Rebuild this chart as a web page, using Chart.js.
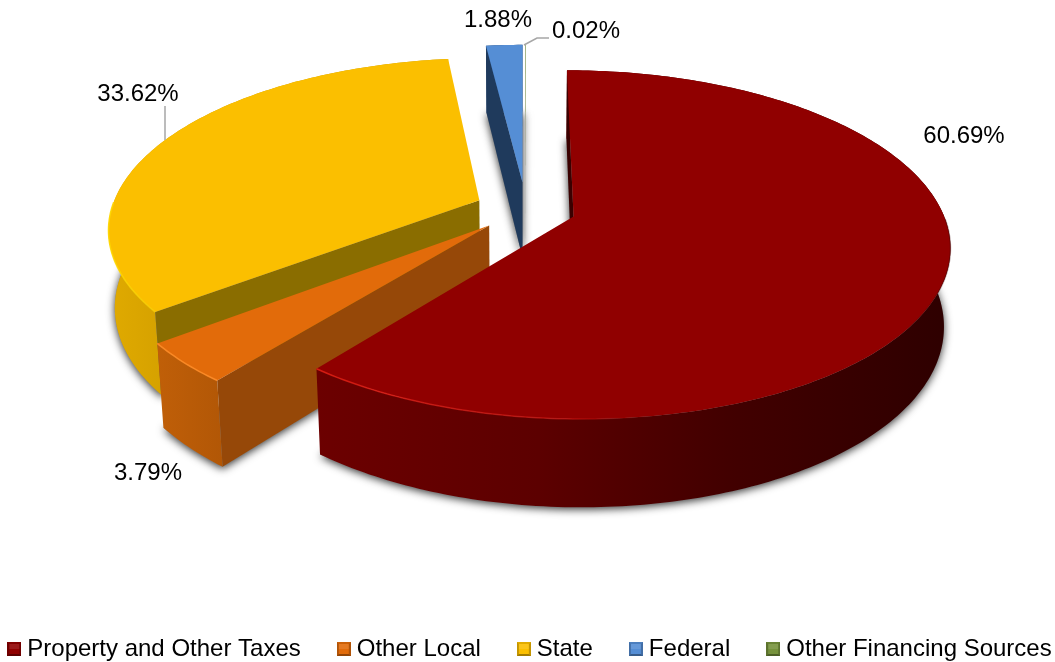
<!DOCTYPE html>
<html>
<head>
<meta charset="utf-8">
<title>Revenue by source</title>
<script src="https://cdn.jsdelivr.net/npm/chart.js@4/dist/chart.umd.js"></script>
<style>
  html, body { margin: 0; padding: 0; background: #fff; }
  canvas { display: block; }
</style>
</head>
<body>
<canvas id="pie" width="1055" height="662"></canvas>
<script>
const categories = ['Property and Other Taxes', 'Other Local', 'State', 'Federal', 'Other Financing Sources'];
const shares = [60.69, 3.79, 33.62, 1.88, 0.02];
const explode = [50, 51, 51, 60, 60];

const topColors = ['#900000', '#e26b0a', '#fbbf00', '#558ed5', '#76923c'];
const cutColors = ['#3a0000', '#964808', '#8a6d00', '#1f3a5c', '#c9cdb8'];
const wallStops = [
  [[0, '#6c0000'], [0.35, '#5c0000'], [0.65, '#420000'], [1, '#2e0000']],
  [[0, '#c05f08'], [1, '#b25706']],
  [[0, '#e0aa00'], [0.15, '#d6a200'], [1, '#c99800']],
  [[0, '#2a4a75'], [1, '#2a4a75']],
  [[0, '#5a702e'], [1, '#5a702e']],
];
const rimStops = [
  [[0, 'rgba(220,30,20,0.9)'], [0.4, 'rgba(215,25,20,0.55)'], [0.55, 'rgba(144,0,0,0)'], [0.9, 'rgba(60,0,0,0)'], [1, 'rgba(60,0,0,0.35)']],
  [[0, 'rgba(255,140,40,0.9)'], [1, 'rgba(255,140,40,0.9)']],
  [[0, 'rgba(255,216,0,0.9)'], [1, 'rgba(255,216,0,0.6)']],
  null,
  null,
];

// label centres, same order as the categories
const labelCentres = [[964, 136], [148, 473], [138, 94], [498, 20], [586, 31]];
const leaderLines = [
  [[165, 140], [165, 106]],
  [[524, 45], [537, 38], [549, 38]],
];

// tilted pie camera
const X0 = 526, Y0 = 209, TILT = 0.455, DEPTH = 78, PERSP = 0.16, DROP = 0.015;
const PAINT_ORDER = [3, 4, 2, 1, 0];
const FONT = '24px "Liberation Sans"';

function project(u, v, h, R) {
  const s = 1 / (1 - PERSP * v / R + DROP * h);
  return [X0 + u * s, Y0 + (v * TILT + h * DEPTH) * s];
}

function cross(o, a, b) {
  return (a[0] - o[0]) * (b[1] - o[1]) - (a[1] - o[1]) * (b[0] - o[0]);
}

// small bevelled legend square
function makeMarker(color) {
  const c = document.createElement('canvas');
  c.width = 14; c.height = 14;
  const g = c.getContext('2d');
  g.fillStyle = color;
  g.fillRect(0, 0, 14, 14);
  const tri = (pts, fill) => {
    g.beginPath();
    pts.forEach((p, i) => i ? g.lineTo(p[0], p[1]) : g.moveTo(p[0], p[1]));
    g.closePath();
    g.fillStyle = fill;
    g.fill();
  };
  tri([[0, 0], [14, 0], [7, 7]], 'rgba(0,0,0,0.1)');
  tri([[0, 14], [14, 14], [7, 7]], 'rgba(0,0,0,0.35)');
  tri([[0, 0], [0, 14], [7, 7]], 'rgba(0,0,0,0.22)');
  tri([[14, 0], [14, 14], [7, 7]], 'rgba(0,0,0,0.22)');
  g.fillStyle = color;
  g.fillRect(2, 2, 10, 10);
  g.fillStyle = 'rgba(255,255,255,0.1)';
  g.fillRect(2, 2, 10, 5);
  return c;
}

function tracePath(ctx, pts) {
  ctx.beginPath();
  pts.forEach((p, i) => i ? ctx.lineTo(p[0], p[1]) : ctx.moveTo(p[0], p[1]));
  ctx.closePath();
}

function xGradient(ctx, pts, stops) {
  const xs = pts.map(p => p[0]);
  const g = ctx.createLinearGradient(Math.min(...xs), 0, Math.max(...xs) + 0.01, 0);
  stops.forEach(s => g.addColorStop(s[0], s[1]));
  return g;
}

// one pie element as 3D geometry, angles and radius come from the arc
function sliceShape(arc) {
  const R = arc.outerRadius;
  const a0 = arc.startAngle, a1 = arc.endAngle;
  const mid = (a0 + a1) / 2;
  const ox = Math.cos(mid) * arc.options.offset;
  const oy = Math.sin(mid) * arc.options.offset;
  const steps = Math.max(2, Math.ceil((a1 - a0) * 60));
  const rim = h => {
    const out = [];
    for (let i = 0; i <= steps; i++) {
      const a = a0 + (a1 - a0) * i / steps;
      out.push(project(ox + R * Math.cos(a), oy + R * Math.sin(a), h, R));
    }
    return out;
  };
  return {
    apexTop: project(ox, oy, 0, R),
    apexBottom: project(ox, oy, 1, R),
    rimTop: rim(0),
    rimBottom: rim(1),
  };
}

function drawCut(ctx, apexTop, apexBottom, edgeTop, edgeBottom, color) {
  tracePath(ctx, [apexTop, edgeTop, edgeBottom, apexBottom]);
  ctx.fillStyle = color;
  ctx.fill();
}

const pie3d = {
  id: 'pie3d',
  beforeDatasetsDraw(chart) {
    const ctx = chart.ctx;
    const arcs = chart.getDatasetMeta(0).data;
    const shapes = arcs.map(sliceShape);

    // soft contact shadow under every slice
    ctx.save();
    ctx.shadowColor = 'rgba(0,0,0,0.8)';
    ctx.shadowBlur = 8;
    ctx.shadowOffsetY = 2;
    ctx.fillStyle = '#888';
    PAINT_ORDER.forEach(i => {
      tracePath(ctx, [shapes[i].apexBottom, ...shapes[i].rimBottom]);
      ctx.fill();
    });
    ctx.restore();

    PAINT_ORDER.forEach(i => {
      const s = shapes[i];
      const n = s.rimTop.length - 1;

      // outer wall
      const wall = [...s.rimTop, ...s.rimBottom.slice().reverse()];
      tracePath(ctx, wall);
      ctx.fillStyle = xGradient(ctx, wall, wallStops[i]);
      ctx.fill();

      // straight cut faces, only where they turn towards the viewer
      if (cross(s.apexTop, s.rimTop[0], s.apexBottom) < 0) {
        drawCut(ctx, s.apexTop, s.apexBottom, s.rimTop[0], s.rimBottom[0], cutColors[i]);
      }
      if (cross(s.apexTop, s.rimTop[n], s.apexBottom) > 0) {
        drawCut(ctx, s.apexTop, s.apexBottom, s.rimTop[n], s.rimBottom[n], cutColors[i]);
      }

      // top face
      tracePath(ctx, [s.apexTop, ...s.rimTop]);
      ctx.fillStyle = arcs[i].options.backgroundColor;
      ctx.fill();

      // lit front edge
      if (rimStops[i]) {
        const front = s.rimTop.filter((p, k) => {
          const a = arcs[i].startAngle + (arcs[i].endAngle - arcs[i].startAngle) * k / n;
          return Math.sin(a) > 0;
        });
        ctx.beginPath();
        front.forEach((p, k) => k ? ctx.lineTo(p[0], p[1]) : ctx.moveTo(p[0], p[1]));
        ctx.strokeStyle = xGradient(ctx, front, rimStops[i]);
        ctx.lineWidth = 1.5;
        ctx.stroke();
      }
    });

    // leader lines and value labels
    ctx.save();
    ctx.strokeStyle = '#a6a6a6';
    ctx.lineWidth = 1.5;
    leaderLines.forEach(line => {
      ctx.beginPath();
      line.forEach((p, k) => k ? ctx.lineTo(p[0], p[1]) : ctx.moveTo(p[0], p[1]));
      ctx.stroke();
    });
    ctx.font = FONT;
    ctx.fillStyle = '#000';
    ctx.textAlign = 'center';
    ctx.textBaseline = 'middle';
    shares.forEach((v, i) => {
      ctx.fillText(v.toFixed(2) + '%', labelCentres[i][0], labelCentres[i][1]);
    });
    ctx.restore();

    return false;
  },
};

const markers = topColors.map(makeMarker);

new Chart(document.getElementById('pie'), {
  type: 'pie',
  data: {
    labels: categories,
    datasets: [{
      data: shares,
      backgroundColor: topColors,
      offset: explode,
      borderWidth: 0,
    }],
  },
  plugins: [pie3d],
  options: {
    responsive: false,
    animation: false,
    devicePixelRatio: 1,
    radius: 368,
    layout: { padding: { left: -75, right: -85, bottom: -9 } },
    plugins: {
      tooltip: { enabled: false },
      legend: {
        position: 'bottom',
        labels: {
          color: '#000',
          font: { family: '"Liberation Sans"', size: 24 },
          usePointStyle: true,
          boxWidth: 2,
          padding: 42,
          generateLabels: () => categories.map((text, i) => ({
            text,
            fillStyle: topColors[i],
            strokeStyle: topColors[i],
            lineWidth: 0,
            pointStyle: markers[i],
            hidden: false,
            index: i,
          })),
        },
      },
    },
  },
});
</script>
</body>
</html>
